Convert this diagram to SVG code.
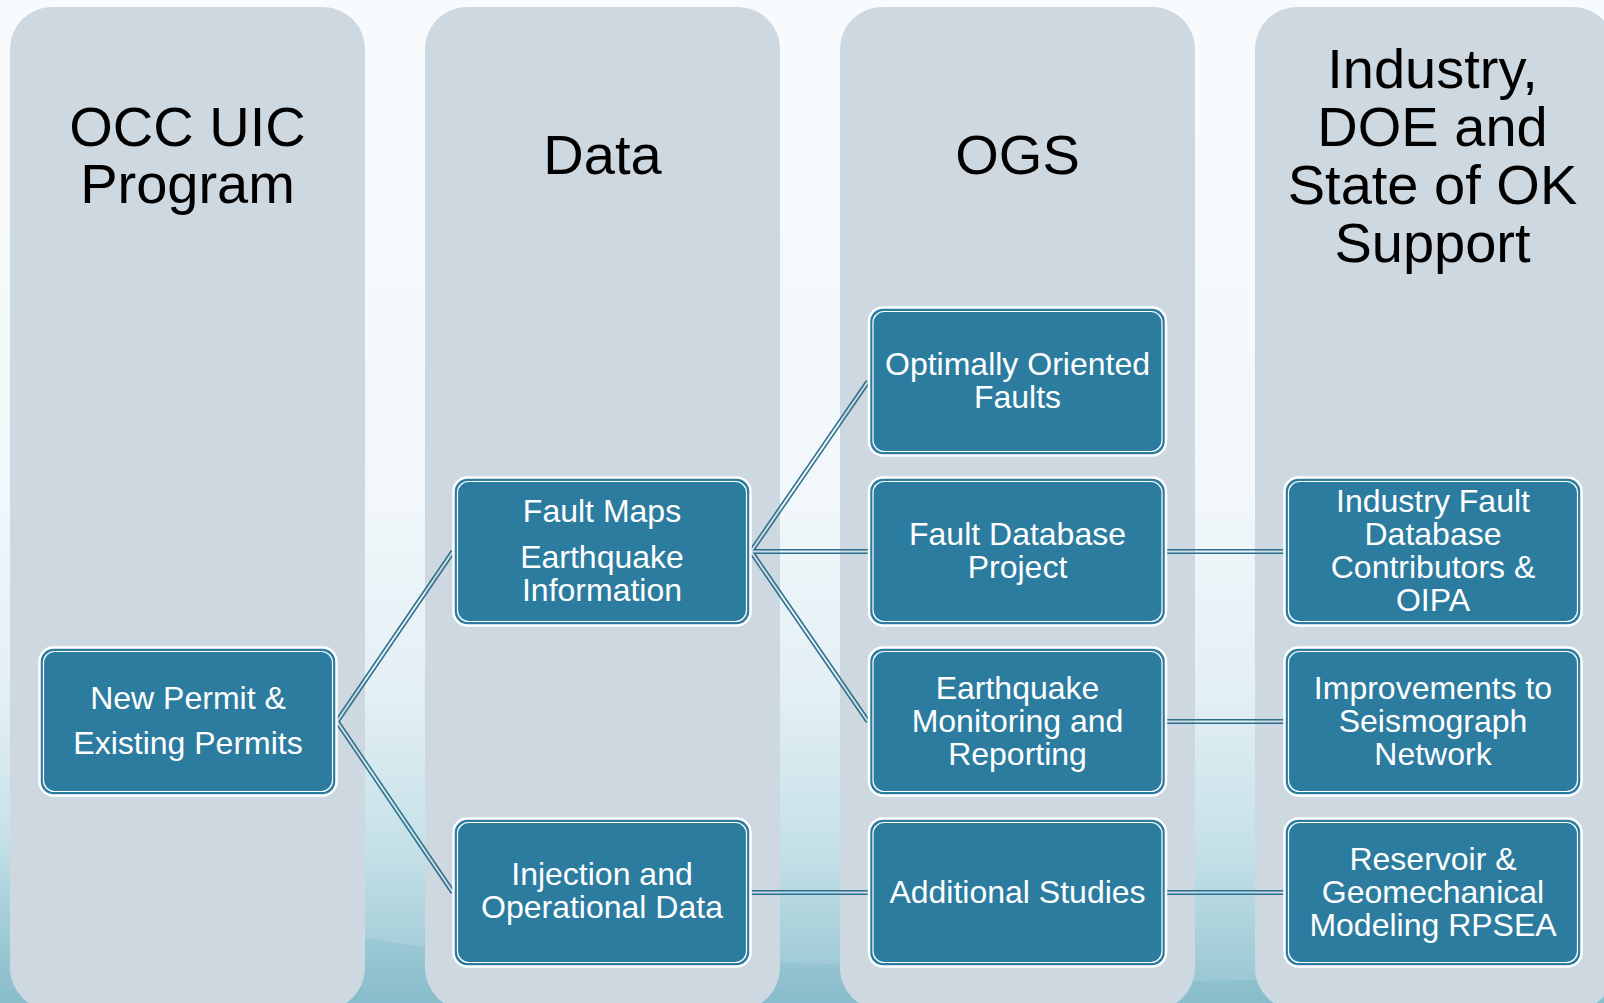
<svg xmlns="http://www.w3.org/2000/svg" xmlns:xlink="http://www.w3.org/1999/xlink" width="1604" height="1003" viewBox="0 0 1604 1003">
  <defs>
    <linearGradient id="bg" x1="0" y1="0" x2="0" y2="1">
      <stop offset="0" stop-color="#f8fbfd"/>
      <stop offset="0.5" stop-color="#f1f7fa"/>
      <stop offset="0.7" stop-color="#e2eff4"/>
      <stop offset="0.85" stop-color="#c4e0e7"/>
      <stop offset="1" stop-color="#94c4d1"/>
    </linearGradient>
    <linearGradient id="wave" x1="0" y1="0" x2="0" y2="1">
      <stop offset="0" stop-color="#9ccbd7" stop-opacity="0"/>
      <stop offset="1" stop-color="#7fb6c7" stop-opacity="0.8"/>
    </linearGradient>
    <style>
      .col { fill: #ced8e0; }
      .title { font-family: "Liberation Sans", Arial, sans-serif; font-size: 56px; fill: #000; text-anchor: middle; }
      .box { fill: #2c7ca0; stroke: #ffffff; stroke-width: 2.5; }
      .inner { fill: none; stroke: #ffffff; stroke-width: 1.2; }
      .label { font-family: "Liberation Sans", Arial, sans-serif; font-size: 32px; fill: #ffffff; text-anchor: middle; }
      .wire { fill: none; stroke-linejoin: miter; stroke-linecap: butt; }
    </style>
    <!-- connector centre lines, reused for the double-line stroke -->
    <g id="wires">
      <path d="M337 721.5 L453 551.5"/>
      <path d="M337 721.5 L453 892.5"/>
      <path d="M751 551.5 L868 381.5"/>
      <path d="M751 551.5 L868 551.5"/>
      <path d="M751 551.5 L868 721.5"/>
      <path d="M751 892.5 L868 892.5"/>
      <path d="M1166 551.5 L1284 551.5"/>
      <path d="M1166 721.5 L1284 721.5"/>
      <path d="M1166 892.5 L1284 892.5"/>
    </g>
    <mask id="hollow" maskUnits="userSpaceOnUse" x="0" y="0" width="1604" height="1003">
      <rect x="0" y="0" width="1604" height="1003" fill="#ffffff"/>
      <use xlink:href="#wires" fill="none" stroke="#000000" stroke-width="2"/>
    </mask>
  </defs>

  <!-- backdrop -->
  <rect x="0" y="0" width="1604" height="1003" fill="url(#bg)"/>
  <path d="M0 820 C120 860 200 900 330 930 C520 975 760 950 1000 975 C1200 995 1420 960 1604 985 L1604 1003 L0 1003 Z" fill="url(#wave)" opacity="0.7"/>

  <!-- column panels -->
  <g id="columns">
    <rect class="col" x="10" y="7" width="355" height="1003" rx="42"/>
    <rect class="col" x="425" y="7" width="355" height="1003" rx="42"/>
    <rect class="col" x="840" y="7" width="355" height="1003" rx="42"/>
    <rect class="col" x="1255" y="7" width="360" height="1003" rx="42"/>
  </g>

  <!-- column headings -->
  <g id="heading-occ">
    <text class="title" x="187.5" y="146">OCC UIC</text>
    <text class="title" x="187.5" y="203">Program</text>
  </g>
  <g id="heading-data">
    <text class="title" x="602.5" y="174">Data</text>
  </g>
  <g id="heading-ogs">
    <text class="title" x="1017.5" y="174">OGS</text>
  </g>
  <g id="heading-support">
    <text class="title" x="1432.5" y="88">Industry,</text>
    <text class="title" x="1432.5" y="146">DOE and</text>
    <text class="title" x="1432.5" y="204">State of OK</text>
    <text class="title" x="1432.5" y="262">Support</text>
  </g>

  <!-- connectors: double line -->
  <g id="connectors">
    <use xlink:href="#wires" class="wire" stroke="#2b6f8e" stroke-width="5" mask="url(#hollow)"/>
  </g>

  <!-- nodes -->
  <g id="node-permits">
    <rect class="box" x="39.5" y="647.5" width="297" height="148" rx="14"/>
    <rect class="inner" x="43.5" y="651.5" width="289" height="140" rx="11"/>
    <text class="label" x="188" y="709">New Permit &amp;</text>
    <text class="label" x="188" y="754">Existing Permits</text>
  </g>

  <g id="node-fault-maps">
    <rect class="box" x="453.5" y="477.5" width="297" height="148" rx="14"/>
    <rect class="inner" x="457.5" y="481.5" width="289" height="140" rx="11"/>
    <text class="label" x="602" y="522">Fault Maps</text>
    <text class="label" x="602" y="568">Earthquake</text>
    <text class="label" x="602" y="601">Information</text>
  </g>

  <g id="node-injection">
    <rect class="box" x="453.5" y="818.5" width="297" height="148" rx="14"/>
    <rect class="inner" x="457.5" y="822.5" width="289" height="140" rx="11"/>
    <text class="label" x="602" y="885">Injection and</text>
    <text class="label" x="602" y="918">Operational Data</text>
  </g>

  <g id="node-oriented-faults">
    <rect class="box" x="869" y="307.5" width="297" height="148" rx="14"/>
    <rect class="inner" x="873" y="311.5" width="289" height="140" rx="11"/>
    <text class="label" x="1017.5" y="375">Optimally Oriented</text>
    <text class="label" x="1017.5" y="408">Faults</text>
  </g>

  <g id="node-fault-database">
    <rect class="box" x="869" y="477.5" width="297" height="148" rx="14"/>
    <rect class="inner" x="873" y="481.5" width="289" height="140" rx="11"/>
    <text class="label" x="1017.5" y="545">Fault Database</text>
    <text class="label" x="1017.5" y="578">Project</text>
  </g>

  <g id="node-monitoring">
    <rect class="box" x="869" y="647.5" width="297" height="148" rx="14"/>
    <rect class="inner" x="873" y="651.5" width="289" height="140" rx="11"/>
    <text class="label" x="1017.5" y="699">Earthquake</text>
    <text class="label" x="1017.5" y="732">Monitoring and</text>
    <text class="label" x="1017.5" y="765">Reporting</text>
  </g>

  <g id="node-additional">
    <rect class="box" x="869" y="818.5" width="297" height="148" rx="14"/>
    <rect class="inner" x="873" y="822.5" width="289" height="140" rx="11"/>
    <text class="label" x="1017.5" y="903">Additional Studies</text>
  </g>

  <g id="node-contributors">
    <rect class="box" x="1284.5" y="477.5" width="297" height="148" rx="14"/>
    <rect class="inner" x="1288.5" y="481.5" width="289" height="140" rx="11"/>
    <text class="label" x="1433" y="512">Industry Fault</text>
    <text class="label" x="1433" y="545">Database</text>
    <text class="label" x="1433" y="578">Contributors &amp;</text>
    <text class="label" x="1433" y="611">OIPA</text>
  </g>

  <g id="node-seismograph">
    <rect class="box" x="1284.5" y="647.5" width="297" height="148" rx="14"/>
    <rect class="inner" x="1288.5" y="651.5" width="289" height="140" rx="11"/>
    <text class="label" x="1433" y="699">Improvements to</text>
    <text class="label" x="1433" y="732">Seismograph</text>
    <text class="label" x="1433" y="765">Network</text>
  </g>

  <g id="node-modeling">
    <rect class="box" x="1284.5" y="818.5" width="297" height="148" rx="14"/>
    <rect class="inner" x="1288.5" y="822.5" width="289" height="140" rx="11"/>
    <text class="label" x="1433" y="870">Reservoir &amp;</text>
    <text class="label" x="1433" y="903">Geomechanical</text>
    <text class="label" x="1433" y="936">Modeling RPSEA</text>
  </g>
</svg>
